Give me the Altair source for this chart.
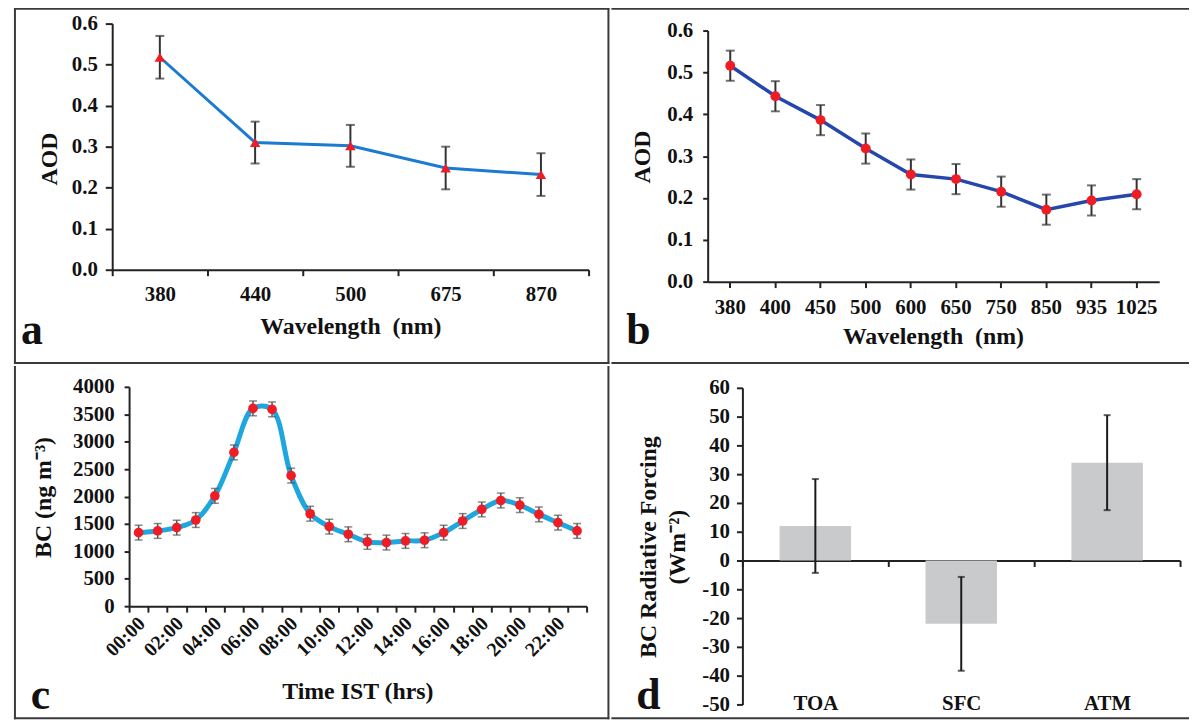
import altair as alt
import pandas as pd

FONT = "Liberation Serif"

# ---------------- data ----------------
# Panel a: AOD vs wavelength
a_wl = ["380", "440", "500", "675", "870"]
a_aod = [0.518, 0.310, 0.302, 0.248, 0.232]
a_err = [0.052, 0.051, 0.051, 0.052, 0.052]

# Panel b: AOD vs wavelength
b_wl = ["380", "400", "450", "500", "600", "650", "750", "850", "935", "1025"]
b_aod = [0.516, 0.443, 0.386, 0.318, 0.256, 0.245, 0.215, 0.172, 0.194, 0.209]
b_err = [0.036, 0.036, 0.036, 0.036, 0.036, 0.036, 0.036, 0.036, 0.036, 0.036]

# Panel c: diurnal BC
c_time = ["00:00", "01:00", "02:00", "03:00", "04:00", "05:00", "06:00", "07:00",
          "08:00", "09:00", "10:00", "11:00", "12:00", "13:00", "14:00", "15:00",
          "16:00", "17:00", "18:00", "19:00", "20:00", "21:00", "22:00", "23:00"]
c_bc = [1341, 1372, 1432, 1571, 2012, 2804, 3607, 3589, 2381, 1686, 1450, 1311,
        1172, 1160, 1190, 1202, 1341, 1553, 1764, 1927, 1843, 1674, 1523, 1372]
c_err = [135, 135, 135, 135, 135, 135, 135, 135, 135, 135, 135, 135,
         135, 135, 135, 135, 135, 135, 135, 135, 135, 135, 135, 135]

# Panel d: BC radiative forcing
d_cat = ["TOA", "SFC", "ATM"]
d_val = [12, -22, 34]
d_err = [16.3, 16.3, 16.5]

RED = "#ee1c25"
BORDER = "#3a3a3a"
LABEL_FS = 21
TITLE_FS = 24

WL, WR = 600, 582      # column widths
HT, HB = 359, 356      # row heights

ONE = pd.DataFrame({"t": [""]})


def table(xname, xs, yname, ys, errs):
    return pd.DataFrame({
        xname: xs,
        yname: ys,
        "lo": [v - e for v, e in zip(ys, errs)],
        "hi": [v + e for v, e in zip(ys, errs)],
    })


def letter(ch, x, y):
    return alt.Chart(pd.DataFrame({"t": [ch]})).mark_text(
        font=FONT, fontSize=44, fontWeight="bold", align="left",
        baseline="alphabetic", color="#111"
    ).encode(text="t:N", x=alt.value(x), y=alt.value(y))


def hline(x1, x2, y):
    return alt.Chart(ONE).mark_rule(color=BORDER, strokeWidth=2).encode(
        x=alt.value(x1), x2=alt.value(x2), y=alt.value(y))


def vline(x, y1, y2):
    return alt.Chart(ONE).mark_rule(color=BORDER, strokeWidth=2).encode(
        x=alt.value(x), y=alt.value(y1), y2=alt.value(y2))


def err_layers(base, X, Yf, color, width, cap):
    rule = base.mark_rule(color=color, strokeWidth=width).encode(
        x=X, y=Yf("lo"), y2="hi")
    t1 = base.mark_tick(color=color, thickness=width, size=cap).encode(x=X, y=Yf("lo"))
    t2 = base.mark_tick(color=color, thickness=width, size=cap).encode(x=X, y=Yf("hi"))
    return [rule, t1, t2]


# ---------------- panel a ----------------
da = table("wa", a_wl, "aod", a_aod, a_err)
Xa = alt.X("wa:N", sort=None,
           scale=alt.Scale(type="band", domain=a_wl, range=[99, 579],
                           paddingInner=0, paddingOuter=0),
           axis=alt.Axis(orient="bottom", offset=264 - HT, tickBand="extent", tickSize=6,
                         labelPadding=19, labelBaseline="middle", labelAngle=0,
                         title="Wavelength\u00a0 (nm)", titleX=339, titleY=57,
                         titleBaseline="middle"))


def Ya(f):
    return alt.Y(f"{f}:Q",
                 scale=alt.Scale(domain=[0, 0.6], range=[264, 16], nice=False, zero=False),
                 axis=alt.Axis(orient="left", offset=-99,
                               values=[0, 0.1, 0.2, 0.3, 0.4, 0.5, 0.6], format=".1f",
                               tickSize=7, labelPadding=8, title="AOD",
                               titleX=-63, titleY=152, titleBaseline="middle"))


ba = alt.Chart(da)
pa = alt.layer(
    hline(0, WL, 1), vline(1, 0, HT), vline(WL - 1, 0, HT), hline(0, WL, HT - 1),
    *err_layers(ba, Xa, Ya, "#333333", 2, 9),
    ba.mark_line(color="#1b7bd0", strokeWidth=3).encode(x=Xa, y=Ya("aod")),
    ba.mark_point(shape="triangle-up", filled=True, color=RED, size=110, opacity=1).encode(
        x=Xa, y=Ya("aod")),
    letter("a", 7, 339),
).properties(width=WL, height=HT)

# ---------------- panel b ----------------
db = table("wb", b_wl, "aodb", b_aod, b_err)
Xb = alt.X("wb:N", sort=None,
           scale=alt.Scale(type="band", domain=b_wl, range=[97, 552],
                           paddingInner=0, paddingOuter=0),
           axis=alt.Axis(orient="bottom", offset=276 - HT, tickBand="center", tickSize=6,
                         labelPadding=20, labelBaseline="middle", labelAngle=0,
                         title="Wavelength\u00a0 (nm)", titleX=324, titleY=55,
                         titleBaseline="middle"))


def Yb(f):
    return alt.Y(f"{f}:Q",
                 scale=alt.Scale(domain=[0, 0.6], range=[276, 23], nice=False, zero=False),
                 axis=alt.Axis(orient="left", offset=-97,
                               values=[0, 0.1, 0.2, 0.3, 0.4, 0.5, 0.6], format=".1f",
                               tickSize=5, labelPadding=10, title="AOD",
                               titleX=-66, titleY=150, titleBaseline="middle"))


bb = alt.Chart(db)
pb = alt.layer(
    hline(0, WR, 1), hline(0, WR, HT - 1),
    *err_layers(bb, Xb, Yb, "#333333", 2, 9),
    bb.mark_line(color="#2546ad", strokeWidth=3.5).encode(x=Xb, y=Yb("aodb")),
    bb.mark_point(shape="circle", filled=True, color=RED, size=100, opacity=1).encode(
        x=Xb, y=Yb("aodb")),
    letter("b", 15, 339),
).properties(width=WR, height=HT)

# ---------------- panel c ----------------
dc = table("tc", c_time, "bc", c_bc, c_err)
Xc = alt.X("tc:N", sort=None,
           scale=alt.Scale(type="band", domain=c_time, range=[116, 577],
                           paddingInner=0, paddingOuter=0),
           axis=alt.Axis(orient="bottom", offset=242 - HB, tickBand="extent", tickSize=6,
                         labelAngle=315, labelAlign="right", labelBaseline="middle",
                         labelPadding=8, labelOffset=3, labelOverlap=False,
                         labelFontSize=20,
                         labelExpr="toNumber(slice(datum.label,0,2)) % 2 == 0 ? datum.label : ''",
                         title="Time IST (hrs)", titleX=346, titleY=86,
                         titleBaseline="middle"))


def Yc(f):
    return alt.Y(f"{f}:Q",
                 scale=alt.Scale(domain=[0, 4000], range=[242, 21], nice=False, zero=False),
                 axis=alt.Axis(orient="left", offset=-116,
                               values=[0, 500, 1000, 1500, 2000, 2500, 3000, 3500, 4000],
                               format="d", tickSize=5, labelPadding=10,
                               title="BC (ng m\u207b\u00b3)",
                               titleX=-86, titleY=132, titleBaseline="middle"))


bc = alt.Chart(dc)
pc = alt.layer(
    vline(1, 0, HB), vline(WL - 1, 0, HB), hline(0, WL, HB - 1),
    bc.mark_line(color="#1ea7df", strokeWidth=5, interpolate="catmull-rom").encode(
        x=Xc, y=Yc("bc")),
    *err_layers(bc, Xc, Yc, "#555555", 1.5, 8),
    bc.mark_point(shape="circle", filled=True, color=RED, size=95, opacity=1).encode(
        x=Xc, y=Yc("bc")),
    letter("c", 17, 346),
).properties(width=WL, height=HB)

# ---------------- panel d ----------------
dd = table("cat", d_cat, "rf", d_val, d_err)
dd["zero"] = [0, 0, 0]
Xd = alt.X("cat:N", sort=None,
           scale=alt.Scale(type="band", domain=d_cat, range=[132, 573],
                           paddingInner=0, paddingOuter=0),
           axis=alt.Axis(orient="bottom", offset=196 - HB, tickBand="extent", tickSize=6,
                         labelPadding=138, labelBaseline="middle", labelAngle=0,
                         title=None))


def Yd(f):
    return alt.Y(f"{f}:Q",
                 scale=alt.Scale(domain=[-50, 60], range=[341, 22], nice=False, zero=False),
                 axis=alt.Axis(orient="left", offset=-132,
                               values=[-50, -40, -30, -20, -10, 0, 10, 20, 30, 40, 50, 60],
                               labelExpr="toString(datum.value)",
                               tickSize=6, labelPadding=7,
                               title=["BC Radiative Forcing", "(Wm\u207b\u00b2)"],
                               titleLineHeight=30,
                               titleX=-95, titleY=182, titleBaseline="middle"))


bd = alt.Chart(dd)
pd_ = alt.layer(
    hline(0, WR, HB - 1),
    bd.mark_bar(color="#c9cacc", width=72).encode(x=Xd, y=Yd("rf"), y2="zero"),
    *err_layers(bd, Xd, Yd, "#1a1a1a", 2, 7),
    letter("d", 25, 346),
).properties(width=WR, height=HB)

chart = alt.vconcat(
    alt.hconcat(pa, pb, spacing=0),
    alt.hconcat(pc, pd_, spacing=0),
    spacing=0,
).properties(
    padding={"left": -2, "top": -4, "right": 0, "bottom": 0},
    background="white",
).configure_view(
    strokeWidth=0, stroke=None
).configure_axis(
    grid=False,
    domainColor="#222222", domainWidth=2,
    tickColor="#222222", tickWidth=2,
    labelFont=FONT, labelFontSize=LABEL_FS, labelFontWeight="bold", labelColor="#111111",
    titleFont=FONT, titleFontSize=TITLE_FS, titleFontWeight="bold", titleColor="#111111",
)

chart.save("out.html", embed_options={"renderer": "svg", "actions": False})
